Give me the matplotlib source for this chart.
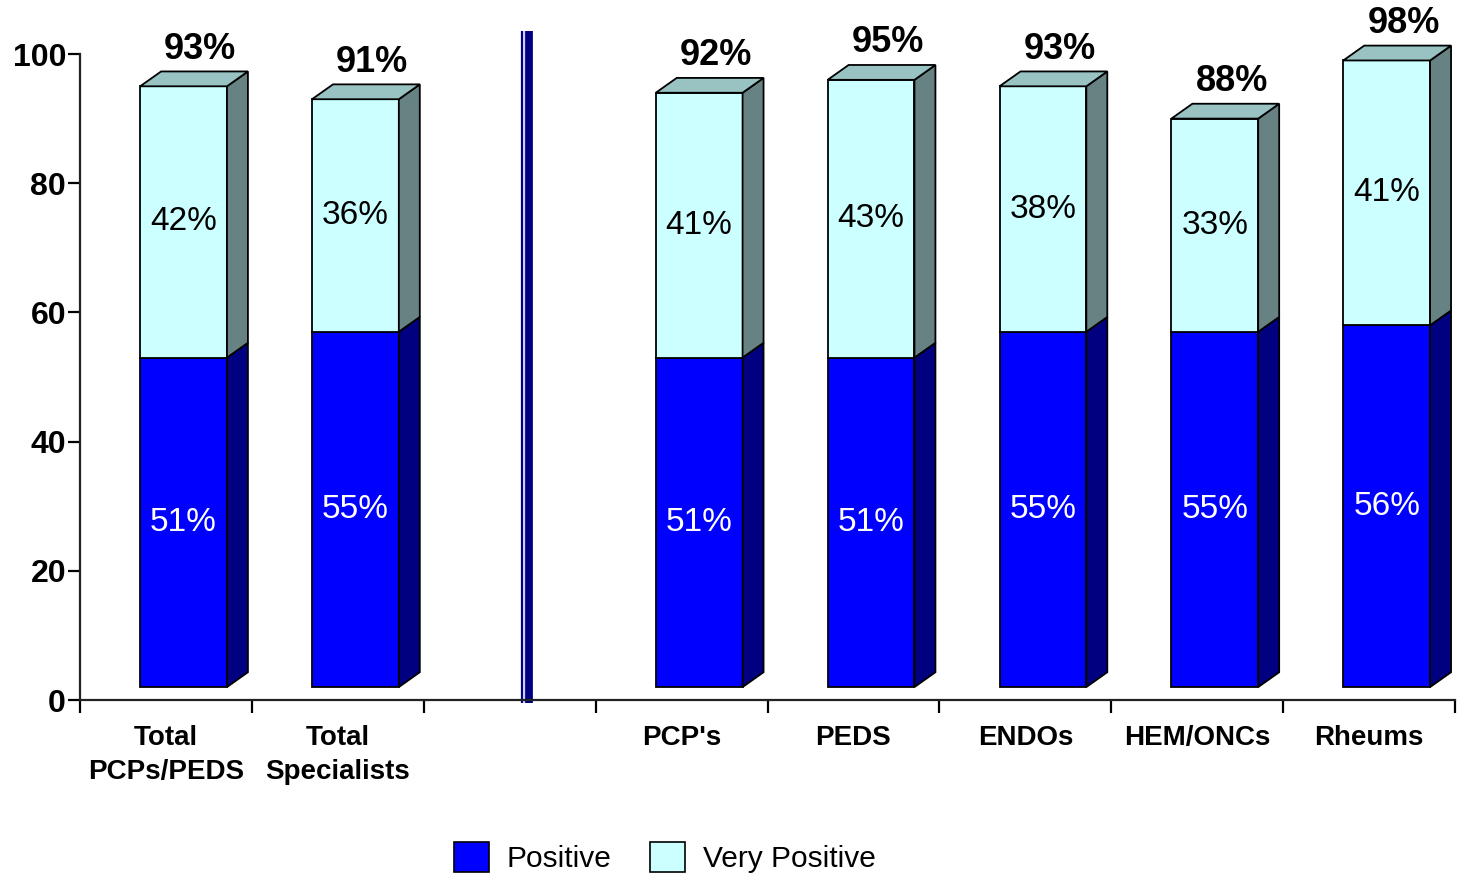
import matplotlib
matplotlib.use("Agg")
import matplotlib.pyplot as plt
from matplotlib.patches import Polygon, Patch

plt.rcParams['font.family'] = ['Liberation Sans', 'DejaVu Sans']

# data (None = empty slot used as a spacer)
categories = ["Total\nPCPs/PEDS", "Total\nSpecialists", "", "PCP's", "PEDS",
              "ENDOs", "HEM/ONCs", "Rheums"]
positive = [51, 55, None, 51, 51, 55, 55, 56]
very_positive = [42, 36, None, 41, 43, 38, 33, 41]
totals = [93, 91, None, 92, 95, 93, 88, 98]
legend_labels = ["Positive", "Very Positive"]

# colours: front, side, top
blue = ("#0000FF", "#000080", "#0000C0")
cyan = ("#CCFFFF", "#668282", "#99C3C3")

fig = plt.figure(figsize=(14.63, 8.74), dpi=100)
ax = fig.add_axes([80 / 1463, 1 - 700 / 874, 1375 / 1463, 646 / 874])
ax.set_xlim(0, 8)
ax.set_ylim(0, 100)

base = 2.0      # front face floor
dx, dy = 0.122, 2.3   # 3d depth
left_off, width = 0.35, 0.505


def box(x0, y0, y1, cols, top):
    x1 = x0 + width
    kw = dict(edgecolor="black", linewidth=1.3, joinstyle="miter", clip_on=False)
    ax.add_patch(Polygon([(x0, y0), (x1, y0), (x1, y1), (x0, y1)], facecolor=cols[0], **kw))
    ax.add_patch(Polygon([(x1, y0), (x1 + dx, y0 + dy), (x1 + dx, y1 + dy), (x1, y1)],
                         facecolor=cols[1], **kw))
    if top:
        ax.add_patch(Polygon([(x0, y1), (x1, y1), (x1 + dx, y1 + dy), (x0 + dx, y1 + dy)],
                             facecolor=cols[2], **kw))


for i, (p, v, t) in enumerate(zip(positive, very_positive, totals)):
    if p is None:
        continue
    x0 = i + left_off
    xc = x0 + width / 2
    box(x0, base, base + p, blue, False)
    box(x0, base + p, base + p + v, cyan, True)
    ax.text(xc, base + p / 2, f"{p}%", ha="center", va="center",
            fontsize=24, color="white")
    ax.text(xc, base + p + v / 2, f"{v}%", ha="center", va="center",
            fontsize=24, color="black")
    ax.text(xc + dx * 0.8, base + p + v + dy + 0.7, f"{t}%", ha="center",
            va="bottom", fontsize=26, fontweight="bold", clip_on=False)

# divider between totals and specialties
for xpos, col, lw in [(2.6133, "#000080", 5.6), (2.5728, "#000080", 1.6),
                      (2.585, "#CCCCFF", 1.4)]:
    ax.plot([xpos, xpos], [-0.5, 103.5], color=col, lw=lw,
            clip_on=False, solid_capstyle="butt")

for s in ["top", "right"]:
    ax.spines[s].set_visible(False)
for s in ["left", "bottom"]:
    ax.spines[s].set_linewidth(1.6)
    ax.spines[s].set_color("#222222")

ax.set_yticks(range(0, 101, 20))
ax.set_yticklabels([str(v) for v in range(0, 101, 20)], fontsize=23, fontweight="bold")
ax.tick_params(axis="y", length=9, width=1.6, pad=1)

ax.set_xticks(range(0, 9))
ax.set_xticklabels([])
ax.set_xticks([i + 0.5 for i in range(8)], minor=True)
ax.set_xticklabels(categories, minor=True, fontsize=20, fontweight="bold",
                   linespacing=1.4)
ax.tick_params(axis="x", which="minor", length=0, pad=18)
ax.tick_params(axis="x", which="major", direction="out", length=9, width=1.6)

handles = [Patch(facecolor=blue[0], edgecolor="black", linewidth=1.2),
           Patch(facecolor=cyan[0], edgecolor="black", linewidth=1.2)]
fig.legend(handles, legend_labels, loc="center", bbox_to_anchor=(0.4545, 0.019),
           ncol=2, frameon=False, fontsize=21.5, handlelength=1.15, handleheight=1.15,
           handletextpad=0.6, columnspacing=1.3)

fig.savefig("out.png", dpi=100)
